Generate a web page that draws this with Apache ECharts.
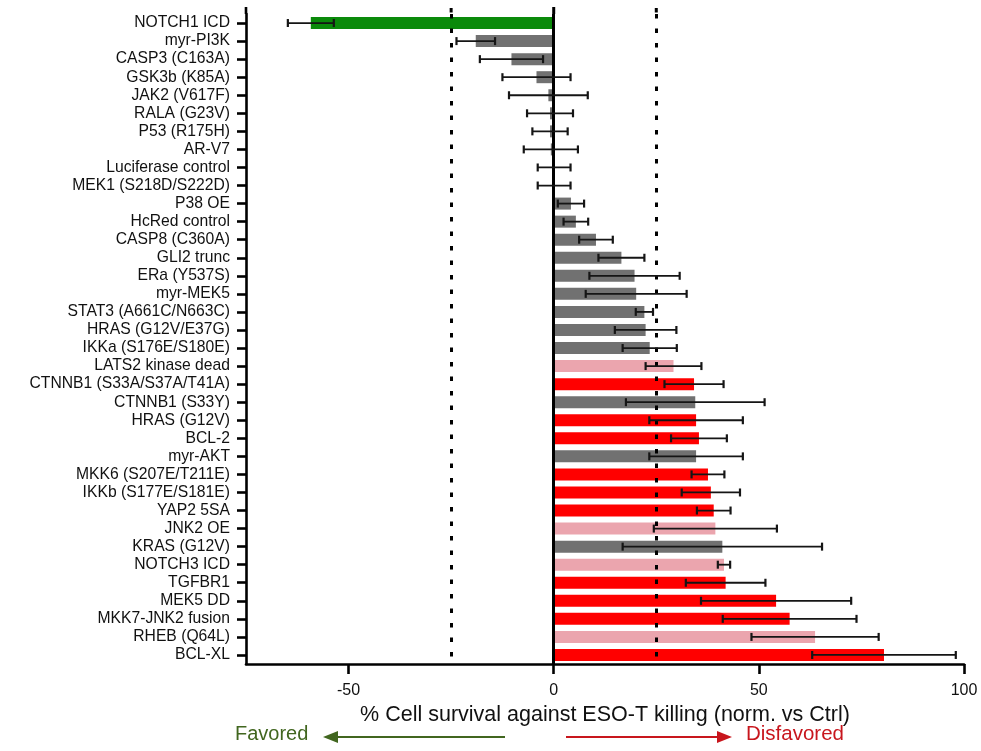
<!DOCTYPE html>
<html>
<head>
<meta charset="utf-8">
<script src="https://cdn.jsdelivr.net/npm/echarts@6/dist/echarts.min.js"></script>
<style>
html,body{margin:0;padding:0;background:#fff;}
#chart{width:981px;height:751px;}
</style>
</head>
<body>
<div id="chart"></div>
<script>
// ---- data ----
var categories = [
  'NOTCH1 ICD','myr-PI3K','CASP3 (C163A)','GSK3b (K85A)','JAK2 (V617F)','RALA (G23V)',
  'P53 (R175H)','AR-V7','Luciferase control','MEK1 (S218D/S222D)','P38 OE','HcRed control',
  'CASP8 (C360A)','GLI2 trunc','ERa (Y537S)','myr-MEK5','STAT3 (A661C/N663C)','HRAS (G12V/E37G)',
  'IKKa (S176E/S180E)','LATS2 kinase dead','CTNNB1 (S33A/S37A/T41A)','CTNNB1 (S33Y)','HRAS (G12V)',
  'BCL-2','myr-AKT','MKK6 (S207E/T211E)','IKKb (S177E/S181E)','YAP2 5SA','JNK2 OE','KRAS (G12V)',
  'NOTCH3 ICD','TGFBR1','MEK5 DD','MKK7-JNK2 fusion','RHEB (Q64L)','BCL-XL'
];
var means = [
  -59.2, -19.0, -10.3, -4.2, -1.3, -0.9,
  -0.9, -0.7, 0.1, 0.1, 4.2, 5.4,
  10.3, 16.5, 19.7, 20.1, 22.1, 22.4,
  23.4, 29.2, 34.2, 34.5, 34.7,
  35.4, 34.7, 37.6, 38.3, 39.0, 39.4, 41.1,
  41.5, 41.9, 54.2, 57.5, 63.7, 80.5
];
var errors = [
  5.6, 4.7, 7.7, 8.3, 9.6, 5.6,
  4.3, 6.6, 4.0, 4.0, 3.2, 3.0,
  4.1, 5.6, 11.0, 12.3, 2.1, 7.5,
  6.6, 6.8, 7.2, 16.9, 11.4,
  6.8, 11.4, 4.0, 7.1, 4.1, 15.0, 24.3,
  1.5, 9.7, 18.3, 16.3, 15.5, 17.5
];
var groups = [
  'fav','neu','neu','neu','neu','neu',
  'neu','neu','neu','neu','neu','neu',
  'neu','neu','neu','neu','neu','neu',
  'neu','weak','dis','neu','dis',
  'dis','neu','dis','dis','dis','weak','neu',
  'weak','dis','dis','dis','weak','dis'
];
var xTickValues = [-50, 0, 50, 100];
var thresholdLines = [-25, 25];
var xTitle = '% Cell survival against ESO-T killing (norm. vs Ctrl)';
var favoredText = 'Favored';
var disfavoredText = 'Disfavored';

// ---- styles ----
var groupColors = { fav: '#0a8a0a', neu: '#717171', dis: '#ff0000', weak: '#eba5ae' };
var FONT = '"Liberation Sans", Arial, Helvetica, sans-serif';

var barData = means.map(function (v, i) {
  return { value: v, itemStyle: { color: groupColors[groups[i]] } };
});
var errData = means.map(function (v, i) {
  return [i, v - errors[i], v + errors[i]];
});

var chart = echarts.init(document.getElementById('chart'), null, { renderer: 'canvas' });

var GRID = { left: 246, right: 17, top: 14, bottom: 87 };

chart.setOption({
  animation: false,
  backgroundColor: '#fff',
  textStyle: { fontFamily: FONT },
  grid: GRID,
  xAxis: {
    type: 'value',
    min: -75, max: 100, interval: 25,
    name: xTitle,
    nameLocation: 'middle',
    nameGap: 35,
    nameTextStyle: { fontSize: 21.5, color: '#111', fontFamily: FONT },
    axisLine: { show: true, onZero: false, lineStyle: { color: '#000', width: 2.6 } },
    axisTick: { show: true, length: 10, lineStyle: { color: '#000', width: 2.6 }, customValues: xTickValues },
    axisLabel: { fontSize: 16, color: '#111', margin: 19, fontFamily: FONT, customValues: xTickValues },
    splitLine: { show: false }
  },
  yAxis: {
    type: 'category',
    data: categories,
    inverse: true,
    axisLine: { show: true, onZero: false, lineStyle: { color: '#000', width: 2.6 } },
    axisTick: { show: true, alignWithLabel: true, length: 9, lineStyle: { color: '#000', width: 2.6 } },
    axisLabel: { fontSize: 15.7, color: '#111', margin: 16, fontFamily: FONT, interval: 0 },
    splitLine: { show: false }
  },
  series: [
    {
      type: 'bar',
      data: barData,
      barWidth: 12,
      z: 2,
      markLine: {
        silent: true,
        symbol: 'none',
        label: { show: false },
        data: [
          { xAxis: 0, lineStyle: { type: 'solid', color: '#000', width: 3 } },
          { xAxis: thresholdLines[0], lineStyle: { type: [4.5, 10], color: '#000', width: 3 } },
          { xAxis: thresholdLines[1], lineStyle: { type: [4.5, 10], color: '#000', width: 3 } }
        ]
      }
    },
    {
      type: 'custom',
      z: 5,
      data: errData,
      renderItem: function (params, api) {
        var y = api.value(0);
        var p1 = api.coord([api.value(1), y]);
        var p2 = api.coord([api.value(2), y]);
        var cap = 4;
        var st = { stroke: '#151515', lineWidth: 1.8 };
        var cst = { stroke: '#151515', lineWidth: 2.2 };
        return {
          type: 'group',
          children: [
            { type: 'line', shape: { x1: p1[0], y1: p1[1], x2: p2[0], y2: p2[1] }, style: st },
            { type: 'line', shape: { x1: p1[0], y1: p1[1] - cap, x2: p1[0], y2: p1[1] + cap }, style: cst },
            { type: 'line', shape: { x1: p2[0], y1: p2[1] - cap, x2: p2[0], y2: p2[1] + cap }, style: cst }
          ]
        };
      }
    }
  ]
});

// decorations: axis extensions above the plot, title arrows
var x0 = chart.convertToPixel({ xAxisIndex: 0 }, 0);
var xl = chart.convertToPixel({ xAxisIndex: 0 }, -25);
var xr = chart.convertToPixel({ xAxisIndex: 0 }, 25);
var xMin = chart.convertToPixel({ xAxisIndex: 0 }, -75);
var topY = GRID.top;
var green = '#41661f', red = '#c8161d';
var arrowY = 737;
chart.setOption({
  graphic: [
    { type: 'line', shape: { x1: xMin, y1: 7, x2: xMin, y2: topY }, style: { stroke: '#000', lineWidth: 2.6 } },
    { type: 'line', shape: { x1: x0, y1: 7, x2: x0, y2: topY }, style: { stroke: '#000', lineWidth: 3 } },
    { type: 'rect', shape: { x: xl - 1.5, y: 8, width: 3, height: 4.5 }, style: { fill: '#000' } },
    { type: 'rect', shape: { x: xr - 1.5, y: 8, width: 3, height: 4.5 }, style: { fill: '#000' } },
    // Favored arrow
    { type: 'line', shape: { x1: 337, y1: arrowY, x2: 505, y2: arrowY }, style: { stroke: green, lineWidth: 2 } },
    { type: 'polygon', shape: { points: [[323, arrowY], [338, arrowY - 6], [338, arrowY + 6]] }, style: { fill: green } },
    { type: 'text', left: 235, top: 724, style: { text: favoredText, fill: green, font: '20px ' + FONT } },
    // Disfavored arrow
    { type: 'line', shape: { x1: 566, y1: arrowY, x2: 718, y2: arrowY }, style: { stroke: red, lineWidth: 2 } },
    { type: 'polygon', shape: { points: [[732, arrowY], [717, arrowY - 6], [717, arrowY + 6]] }, style: { fill: red } },
    { type: 'text', left: 746, top: 724, style: { text: disfavoredText, fill: red, font: '20.5px ' + FONT } }
  ]
});
</script>
</body>
</html>
